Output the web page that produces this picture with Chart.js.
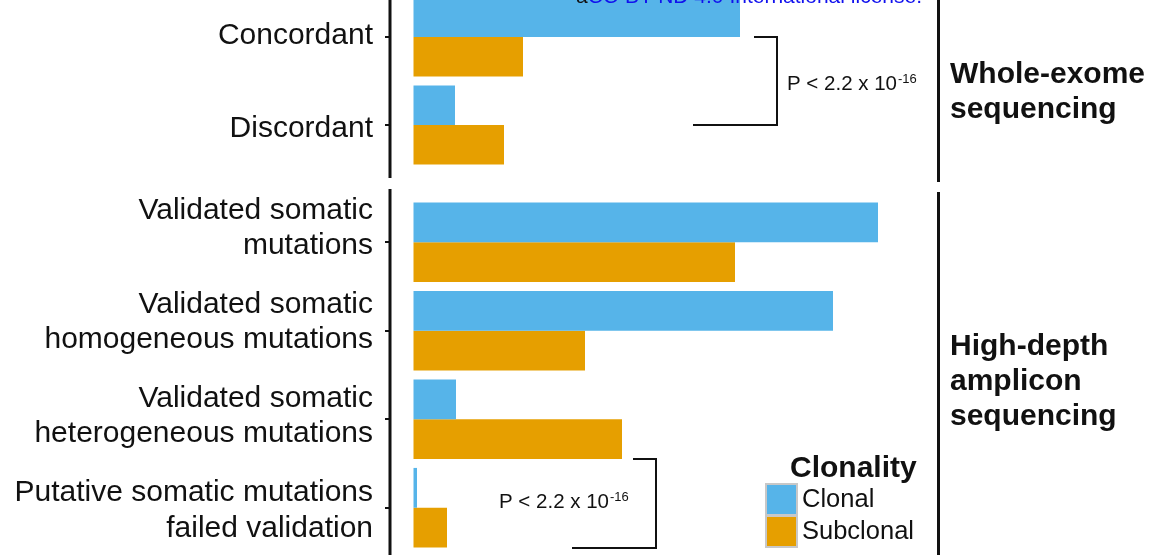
<!DOCTYPE html>
<html>
<head>
<meta charset="utf-8">
<script src="https://cdn.jsdelivr.net/npm/chart.js@4.4.0/dist/chart.umd.min.js"></script>
<style>
  html, body { margin: 0; padding: 0; background: #fff; }
  body {
    width: 1149px; height: 555px; position: relative; overflow: hidden;
    font-family: "Liberation Sans", Arial, sans-serif; color: #111;
  }
  canvas { position: absolute; left: 0; }
  .strip-line { position: absolute; left: 937px; width: 3px; background: #111; }
  .strip-text { position: absolute; left: 950px; font-weight: bold; font-size: 30px; line-height: 35px; }
  .legend-title { position: absolute; left: 790px; top: 450px; font-weight: bold; font-size: 30px; line-height: 34px; }
  .key { position: absolute; left: 765px; width: 29px; height: 29px; border: 2px solid #c8c8c8; }
  .key-label { position: absolute; left: 802px; font-size: 25.5px; line-height: 32px; }
  .licence { position: absolute; right: 227px; top: -15px; font-size: 21px; line-height: 21px; white-space: nowrap; color: #1111ee; }
  .licence b { font-weight: normal; color: #111; }
</style>
</head>
<body>
<canvas id="wes-chart" width="1149" height="194" style="top:-16px"></canvas>
<canvas id="amp-chart" width="1149" height="372" style="top:189px"></canvas>

<div class="licence"><b>a</b>CC-BY-ND 4.0 International license.</div>

<!-- facet strips -->
<div class="strip-line" style="top:0; height:182px"></div>
<div class="strip-line" style="top:192px; height:363px"></div>
<div class="strip-text" style="top:55px">Whole-exome<br>sequencing</div>
<div class="strip-text" style="top:327px">High-depth<br>amplicon<br>sequencing</div>

<!-- legend -->
<div class="legend-title">Clonality</div>
<div class="key" style="top:483px; background:#56B4E9"></div>
<div class="key" style="top:515px; background:#E69F00"></div>
<div class="key-label" style="top:482px">Clonal</div>
<div class="key-label" style="top:514px">Subclonal</div>

<script>
// Whole-exome panel
const wesCategories = ['Concordant', 'Discordant'];
const wesClonal = [326.5, 41.5];
const wesSubclonal = [109.5, 90.5];

// Amplicon panel
const ampCategories = [
  ['Validated somatic', 'mutations'],
  ['Validated somatic', 'homogeneous mutations'],
  ['Validated somatic', 'heterogeneous mutations'],
  ['Putative somatic mutations', 'failed validation']
];
const ampClonal = [464.5, 419.5, 42.5, 3.5];
const ampSubclonal = [321.5, 171.5, 208.5, 33.5];

const seriesNames = ['Clonal', 'Subclonal'];
const seriesColors = ['#56B4E9', '#E69F00'];
const pLabel = 'P < 2.2 x 10';
const pExponent = '-16';

const FONT = '"Liberation Sans", Arial, sans-serif';
const PAD = 9;          // extra room above/below the categories for the axis line
const LINE_H = 35.5;    // category label line spacing

// left axis line running past the outer categories
const axisLine = {
  id: 'axisLine',
  beforeDatasetsDraw(chart) {
    const { ctx, chartArea } = chart;
    ctx.save();
    ctx.fillStyle = '#111';
    ctx.fillRect(chartArea.left - 1.5, chartArea.top - PAD, 3, chartArea.height + 2 * PAD);
    ctx.restore();
  }
};

// category labels, right-aligned next to their tick, with a per-label nudge
const catLabels = {
  id: 'catLabels',
  afterDraw(chart, args, o) {
    const { ctx, chartArea } = chart;
    const y = chart.scales.y;
    const labels = chart.data.labels;
    ctx.save();
    ctx.fillStyle = '#111';
    ctx.font = '30px ' + FONT;
    ctx.textAlign = 'right';
    ctx.textBaseline = 'middle';
    labels.forEach((lab, i) => {
      const lines = Array.isArray(lab) ? lab : [lab];
      const cy = y.getPixelForTick(i) + (o.shift[i] || 0);
      lines.forEach((ln, j) => {
        ctx.fillText(ln, chartArea.left - 17, cy + (j - (lines.length - 1) / 2) * LINE_H);
      });
    });
    ctx.restore();
  }
};

// significance bracket + p-value text
const pBracket = {
  id: 'pBracket',
  afterDatasetsDraw(chart, args, o) {
    const { ctx } = chart;
    const x = chart.scales.x, y = chart.scales.y;
    const band = Math.abs(y.getPixelForValue(1) - y.getPixelForValue(0));
    const ya = Math.round(y.getPixelForValue(o.i1) + o.shift * band);
    const yb = Math.round(y.getPixelForValue(o.i2) + o.shift * band);
    const xe = Math.round(x.getPixelForValue(o.edge));
    ctx.save();
    ctx.strokeStyle = '#111';
    ctx.lineWidth = 2;
    ctx.beginPath();
    ctx.moveTo(x.getPixelForValue(o.top), ya);
    ctx.lineTo(xe, ya);
    ctx.lineTo(xe, yb);
    ctx.lineTo(x.getPixelForValue(o.bottom), yb);
    ctx.stroke();

    const tx = x.getPixelForValue(o.textX);
    const ty = y.getPixelForValue(o.textI) + o.textShift * band;
    ctx.fillStyle = '#111';
    ctx.textBaseline = 'alphabetic';
    ctx.font = '20.5px ' + FONT;
    ctx.fillText(pLabel, tx, ty);
    const w = ctx.measureText(pLabel).width;
    ctx.font = '13px ' + FONT;
    ctx.fillText(pExponent, tx + w + 1, ty - 7);
    ctx.restore();
  }
};

function makePanel(id, categories, clonal, subclonal, bracket, labelShift) {
  const datasets = [clonal, subclonal].map((vals, k) => ({
    label: seriesNames[k],
    data: vals,
    backgroundColor: seriesColors[k],
    borderWidth: 0,
    categoryPercentage: 0.9,
    barPercentage: 1.0
  }));

  return new Chart(document.getElementById(id), {
    type: 'bar',
    data: { labels: categories, datasets: datasets },
    plugins: [axisLine, pBracket, catLabels],
    options: {
      indexAxis: 'y',
      responsive: false,
      animation: false,
      events: [],
      layout: { padding: { left: 0, right: 213, top: PAD, bottom: PAD } },
      plugins: {
        legend: { display: false },
        tooltip: { enabled: false },
        pBracket: bracket,
        catLabels: { shift: labelShift }
      },
      scales: {
        x: { type: 'linear', display: false, min: -23.5, max: 522.5 },
        y: {
          type: 'category',
          offset: true,
          afterFit: s => { s.width = 390; s.paddingTop = 0; s.paddingBottom = 0; },
          ticks: { display: false, autoSkip: false },
          grid: { offset: false, drawOnChartArea: false, tickLength: 5, color: '#111', lineWidth: 2 },
          border: { display: false }
        }
      }
    }
  });
}

var wesChart = makePanel('wes-chart', wesCategories, wesClonal, wesSubclonal,
  { i1: 0, i2: 1, shift: 0, top: 340.5, edge: 363.5, bottom: 279.5, textX: 373.5, textI: 0, textShift: 0.6 },
  [-1, 4]);

var ampChart = makePanel('amp-chart', ampCategories, ampClonal, ampSubclonal,
  { i1: 2, i2: 3, shift: 0.45, top: 219.5, edge: 242.5, bottom: 158.5, textX: 85.5, textI: 3, textShift: 0 },
  [-14, -8.5, -3, 3]);
</script>
</body>
</html>
